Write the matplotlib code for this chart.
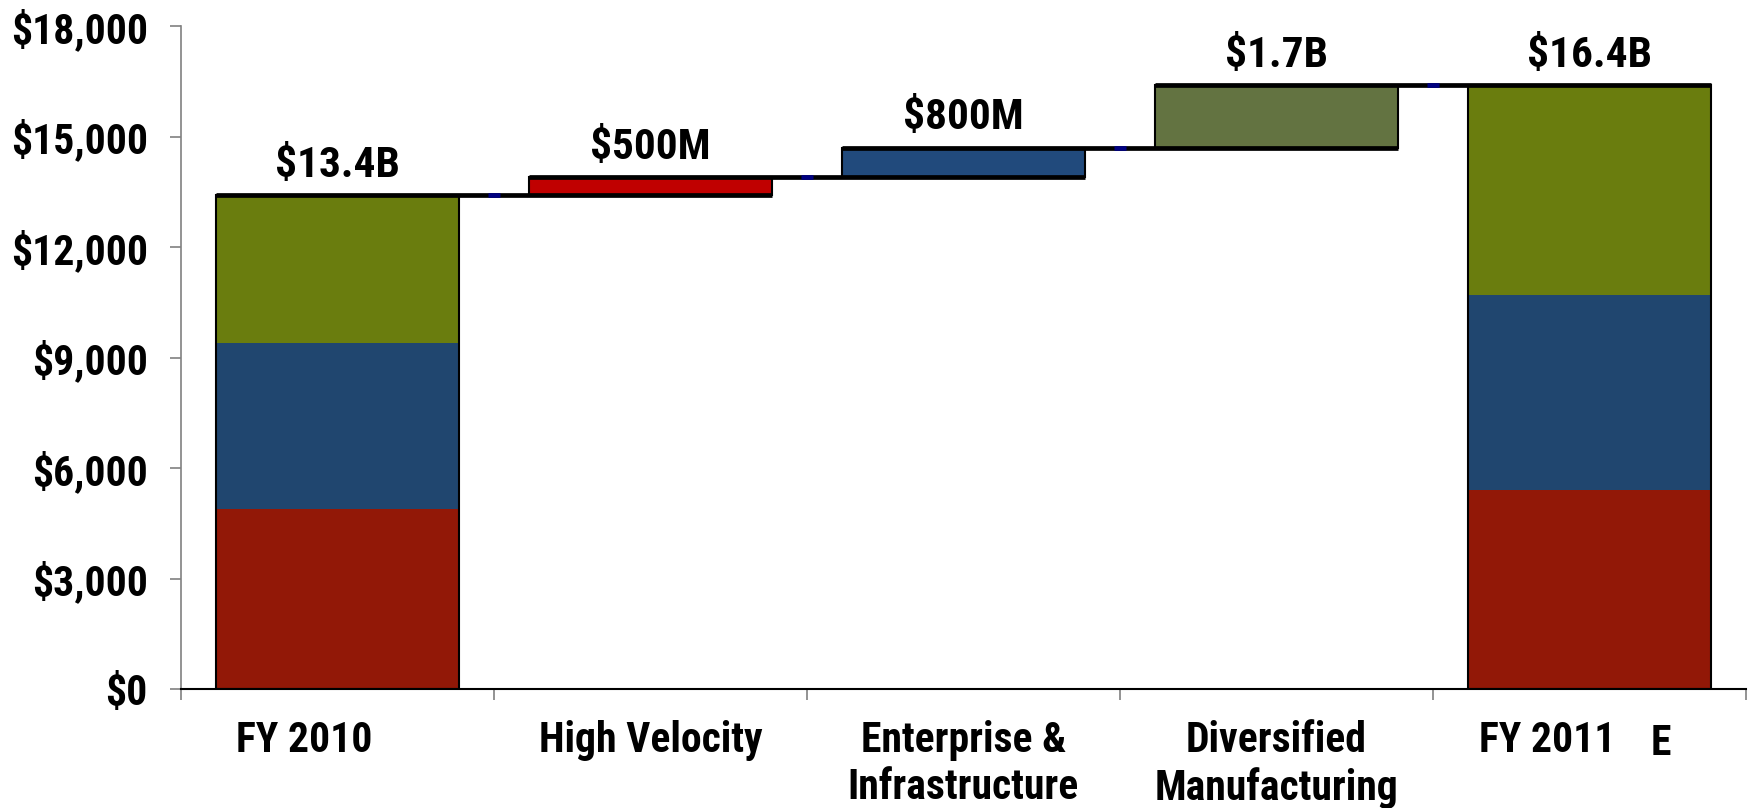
import matplotlib
matplotlib.use("Agg")
import matplotlib.pyplot as plt
import matplotlib.transforms as mtransforms
from matplotlib import font_manager
import numpy as np

# narrow bold face like the original slide; fall back if it is missing
names = {f.name for f in font_manager.fontManager.ttflist}
if 'Roboto Condensed' in names:
    plt.rcParams['font.family'] = ['Roboto Condensed', 'DejaVu Sans']
    scale = 1.2
else:
    plt.rcParams['font.family'] = ['Liberation Sans', 'DejaVu Sans']
    scale = 1.0
plt.rcParams['font.weight'] = 'bold'

# chart data
categories = ['FY 2010', 'High Velocity', 'Enterprise &\nInfrastructure',
              'Diversified\nManufacturing', 'FY 2011']
fy2010_parts = [4900, 4500, 4000]       # red, blue, green segments
changes = [500, 800, 1700]              # High Velocity, E&I, Diversified
fy2011_parts = [5400, 5300, 5700]
value_labels = ['$13.4B', '$500M', '$800M', '$1.7B', '$16.4B']
yticks = [0, 3000, 6000, 9000, 12000, 15000, 18000]

part_colors = ['#921807', '#20466F', '#6A7D0E']
change_colors = ['#C00000', '#214A7C', '#637341']

fig = plt.figure(figsize=(17.5, 8.08), dpi=100)
ax = fig.add_axes([181 / 1750, 1 - 689 / 808, (1746 - 181) / 1750, (689 - 26) / 808])

x = np.arange(len(categories))
w = 0.776

# FY 2010 stacked bar
bottom = 0
for v, c in zip(fy2010_parts, part_colors):
    ax.bar(x[0], v, w, bottom=bottom, color=c, linewidth=0, zorder=2)
    bottom += v
ax.bar(x[0], sum(fy2010_parts), w, fill=False, edgecolor='black', linewidth=1.5, zorder=3)

# floating change bars
levels = [sum(fy2010_parts)]
for i, (d, c) in enumerate(zip(changes, change_colors)):
    ax.bar(x[i + 1], d, w, bottom=levels[-1], color=c, edgecolor='black',
           linewidth=1.5, zorder=2)
    levels.append(levels[-1] + d)

# FY 2011 stacked bar
bottom = 0
for v, c in zip(fy2011_parts, part_colors):
    ax.bar(x[4], v, w, bottom=bottom, color=c, linewidth=0, zorder=2)
    bottom += v
ax.bar(x[4], sum(fy2011_parts), w, fill=False, edgecolor='black', linewidth=1.5, zorder=3)

# connector lines: top of bar i to next bar, with little navy marks in the gap
for i, lev in enumerate(levels):
    ax.plot([x[i] - w / 2, x[i + 1] + w / 2], [lev, lev], color='black',
            linewidth=3.4, solid_capstyle='butt', zorder=4)
    ax.plot([x[i] + 0.48, x[i] + 0.52], [lev, lev], color='#000080',
            linewidth=3.4, solid_capstyle='butt', zorder=5)

# value labels above bars
tops = [levels[0]] + levels[1:] + [sum(fy2011_parts)]
for xi, top, lab in zip(x, tops, value_labels):
    ax.annotate(lab, xy=(xi, top), xytext=(0, 13), textcoords='offset points',
                ha='center', va='baseline', fontsize=26 * scale, fontweight='bold')

ax.set_xlim(-0.5, 4.5)
ax.set_ylim(0, 18000)
ax.set_yticks(yticks)
ax.set_yticklabels(['${:,}'.format(t) for t in yticks], fontsize=25 * scale, fontweight='bold')
ax.set_xticks(x)
ax.set_xticklabels(categories, fontsize=25 * scale, fontweight='bold', linespacing=1.2)
ax.set_xticks(np.arange(-0.5, 5.0, 1.0), minor=True)

ax.tick_params(axis='x', which='major', length=0, pad=22)
ax.tick_params(axis='x', which='minor', length=8, width=1.2, color='#808080')
ax.tick_params(axis='y', which='major', length=8, width=1.2, color='#808080', pad=16)

for s in ['top', 'right']:
    ax.spines[s].set_visible(False)
ax.spines['left'].set_color('#808080')
ax.spines['left'].set_linewidth(1.2)
ax.spines['bottom'].set_color('black')
ax.spines['bottom'].set_linewidth(1.5)

# FY labels sit a bit left of their category centres
labels = ax.get_xticklabels()
for idx, dx in [(0, -33), (4, -42)]:
    off = mtransforms.ScaledTranslation(dx / 100, 0, fig.dpi_scale_trans)
    labels[idx].set_transform(labels[idx].get_transform() + off)

ax.annotate('E', xy=(x[4], 0), xytext=(51, -39), textcoords='offset points',
            ha='center', va='center', fontsize=25 * scale, fontweight='bold',
            annotation_clip=False)

fig.savefig('out.png', dpi=100)
